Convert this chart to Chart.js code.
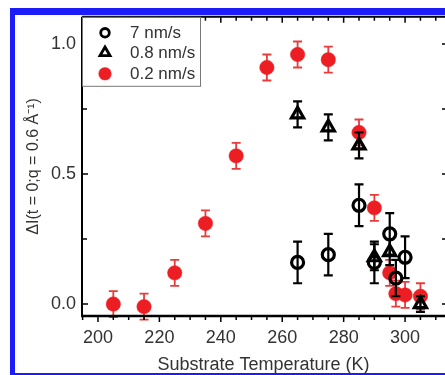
<!DOCTYPE html>
<html><head><meta charset="utf-8">
<script src="https://cdn.jsdelivr.net/npm/chart.js@4.4.1/dist/chart.umd.min.js"></script>
<style>
html,body{margin:0;padding:0;background:#fff;overflow:hidden;width:445px;height:375px;}
#frame{position:absolute;left:10px;top:8px;width:435px;height:367px;box-sizing:border-box;border-style:solid;border-color:#1c1cf8;border-width:7px 0 2px 5px;}
#wrap{position:absolute;left:0;top:0;width:445px;height:375px;}
</style></head><body>
<div id="frame"></div>
<div id="wrap"><canvas id="c" width="445" height="375"></canvas></div>
<script>
// ---- data ----
const seriesLabels = ['7 nm/s', '0.8 nm/s', '0.2 nm/s'];
const temps7 = [265, 275, 285, 290, 295, 297, 300];
const vals7  = [0.16, 0.19, 0.38, 0.16, 0.27, 0.10, 0.18];
const err7   = [0.08, 0.08, 0.08, 0.08, 0.08, 0.07, 0.08];
const temps08 = [265, 275, 285, 290, 295, 305];
const vals08  = [0.73, 0.68, 0.61, 0.18, 0.20, 0.00];
const err08   = [0.05, 0.05, 0.05, 0.05, 0.05, 0.03];
const temps02 = [205, 215, 225, 235, 245, 255, 265, 275, 285, 290, 295, 297, 300, 305];
const vals02  = [0.00, -0.01, 0.12, 0.31, 0.57, 0.91, 0.96, 0.94, 0.66, 0.37, 0.12, 0.04, 0.035, 0.03];
const err02   = [0.05, 0.05, 0.05, 0.05, 0.05, 0.05, 0.05, 0.05, 0.05, 0.05, 0.05, 0.05, 0.05, 0.05];
const xTickVals = [200, 220, 240, 260, 280, 300];
const yTickVals = [0.0, 0.5, 1.0];
const xTitle = 'Substrate Temperature (K)';
const yTitle = 'ΔI(t = 0;q = 0.6 Å⁻¹)';

const RED = 'rgb(236,30,36)';
const RED_BAR = 'rgb(232,60,60)';
const FONT = "'Liberation Sans', Arial, sans-serif";
const TXT = '#333';

function pts(xs, ys) { return xs.map((t, i) => ({x: t, y: ys[i]})); }

const errorBarPlugin = {
  id: 'errorBars',
  beforeDatasetDraw(chart, args) {
    const ds = chart.data.datasets[args.index];
    if (!ds.errorBars) return;
    const {ctx, scales: {x, y}} = chart;
    ctx.save();
    ctx.strokeStyle = ds.barColor;
    ctx.lineWidth = ds.barWidth;
    ds.data.forEach((p, i) => {
      const e = ds.errorBars[i];
      const px = x.getPixelForValue(p.x);
      const y1 = y.getPixelForValue(p.y + e);
      const y2 = y.getPixelForValue(p.y - e);
      ctx.beginPath();
      ctx.moveTo(px, y1); ctx.lineTo(px, y2);
      ctx.moveTo(px - 4.5, y1); ctx.lineTo(px + 4.5, y1);
      ctx.moveTo(px - 4.5, y2); ctx.lineTo(px + 4.5, y2);
      ctx.stroke();
    });
    ctx.restore();
  }
};

const axesPlugin = {
  id: 'axesFrame',
  afterDatasetsDraw(chart) {
    const {ctx, chartArea: {left, right, top, bottom}, scales: {x, y}} = chart;
    ctx.save();
    ctx.strokeStyle = '#000';
    ctx.lineWidth = 1.5;
    ctx.beginPath();
    for (let t = 195; t <= 313; t += 5) {
      const px = x.getPixelForValue(t);
      const major = t % 20 === 0;
      const len = major ? 6 : 4;
      ctx.moveTo(px, bottom); ctx.lineTo(px, bottom + len);
      ctx.moveTo(px, top); ctx.lineTo(px, top + len);
    }
    for (let v = 0; v <= 1.0001; v += 0.25) {
      const py = y.getPixelForValue(v);
      const major = Math.abs(v * 2 - Math.round(v * 2)) < 1e-6;
      const len = major ? 6 : 5;
      ctx.moveTo(left, py); ctx.lineTo(left + len, py);
      ctx.moveTo(right + 2, py); ctx.lineTo(right - 3, py);
    }
    ctx.stroke();
    ctx.lineWidth = 2;
    ctx.beginPath();
    ctx.moveTo(left, top); ctx.lineTo(right, top);
    ctx.moveTo(left, top); ctx.lineTo(left, bottom);
    ctx.stroke();
    ctx.lineWidth = 2.6;
    ctx.beginPath();
    ctx.moveTo(left - 1, bottom); ctx.lineTo(right, bottom);
    ctx.stroke();

    // legend
    const bx = left, by = top, bw = 118, bh = 69;
    ctx.fillStyle = '#fff';
    ctx.fillRect(bx + 1, by + 1, bw - 1, bh - 1);
    ctx.strokeStyle = '#777';
    ctx.lineWidth = 1;
    ctx.strokeRect(bx + 0.5, by + 0.5, bw, bh);
    const rows = [16, 36, 57];
    const styles = [
      {pointStyle: 'circle', radius: 4.3, borderWidth: 2.8, fill: '#fff', stroke: '#000'},
      {pointStyle: 'triangle', radius: 5.8, borderWidth: 2.8, fill: '#fff', stroke: '#000'},
      {pointStyle: 'circle', radius: 6.3, borderWidth: 0.5, fill: RED, stroke: RED}
    ];
    ctx.font = '17px ' + FONT;
    ctx.textBaseline = 'middle';
    ctx.textAlign = 'left';
    seriesLabels.forEach((lab, i) => {
      const s = styles[i];
      ctx.fillStyle = s.fill; ctx.strokeStyle = s.stroke; ctx.lineWidth = s.borderWidth;
      Chart.helpers.drawPoint(ctx, {pointStyle: s.pointStyle, radius: s.radius, borderWidth: s.borderWidth, rotation: 0}, bx + 23, by + rows[i]);
      ctx.fillStyle = TXT;
      ctx.fillText(lab, bx + 48, by + rows[i] + 1);
    });
    ctx.restore();
  }
};

new Chart(document.getElementById('c'), {
  type: 'scatter',
  data: {
    datasets: [
      {label: seriesLabels[0], data: pts(temps7, vals7), errorBars: err7, barColor: '#000', barWidth: 2.2,
       pointStyle: 'circle', pointRadius: 6, pointBorderWidth: 3.2, borderColor: '#000', backgroundColor: 'rgba(255,255,255,0)'},
      {label: seriesLabels[1], data: pts(temps08, vals08), errorBars: err08, barColor: '#000', barWidth: 2.2,
       pointStyle: 'triangle', pointRadius: 7, pointBorderWidth: 3.2, borderColor: '#000', backgroundColor: 'rgba(255,255,255,0)'},
      {label: seriesLabels[2], data: pts(temps02, vals02), errorBars: err02, barColor: RED_BAR, barWidth: 1.8,
       pointStyle: 'circle', pointRadius: 7.2, pointBorderWidth: 0.5, borderColor: RED, backgroundColor: RED}
    ]
  },
  options: {
    responsive: false,
    animation: false,
    events: [],
    layout: {autoPadding: false, padding: {top: 16, right: 0, left: 0, bottom: 0}},
    plugins: {legend: {display: false}, tooltip: {enabled: false}},
    scales: {
      x: {
        type: 'linear', position: 'bottom', min: 194.8, max: 313.0,
        grid: {display: false, drawTicks: false},
        border: {display: false},
        afterBuildTicks: s => { s.ticks = xTickVals.map(v => ({value: v})); },
        afterFit: s => { s.height = 59; s.paddingRight = 0; s.paddingLeft = 0; },
        ticks: {padding: 11, color: TXT, font: {family: FONT, size: 18}, callback: v => String(v), maxRotation: 0},
        title: {display: true, text: xTitle, color: TXT, font: {family: FONT, size: 18, lineHeight: 1.1}, padding: 0}
      },
      y: {
        type: 'linear', min: -0.046, max: 1.105,
        grid: {display: false, drawTicks: false},
        border: {display: false},
        afterBuildTicks: s => { s.ticks = yTickVals.map(v => ({value: v})); },
        afterFit: s => { s.width = 82; },
        ticks: {padding: 6, color: TXT, font: {family: FONT, size: 18}, callback: v => v.toFixed(1)},
        title: {display: true, text: yTitle, color: TXT, font: {family: FONT, size: 16, lineHeight: 1.2}, padding: {top: 24, bottom: 0}}
      }
    }
  },
  plugins: [errorBarPlugin, axesPlugin]
});
</script>
</body></html>
